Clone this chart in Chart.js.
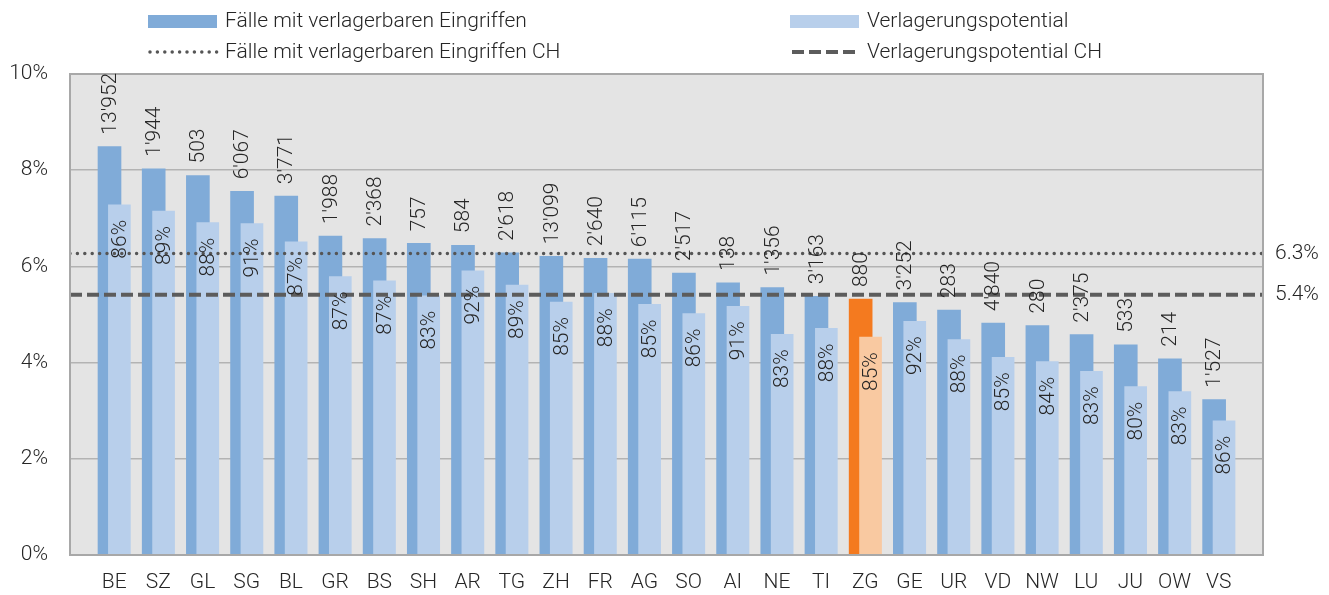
<!DOCTYPE html>
<html>
<head>
<meta charset="utf-8">
<script src="https://cdn.jsdelivr.net/npm/chart.js@4.4.1/dist/chart.umd.min.js"></script>
<style>
  html, body { margin: 0; padding: 0; background: #fff; }
  #wrap { position: relative; width: 1329px; height: 595px; }
</style>
</head>
<body>
<div id="wrap"><canvas id="chart" width="1329" height="595"></canvas></div>
<script>
// Kantone, sortiert nach Anteil Fälle mit verlagerbaren Eingriffen
const cantons = ['BE', 'SZ', 'GL', 'SG', 'BL', 'GR', 'BS', 'SH', 'AR', 'TG', 'ZH', 'FR', 'AG',
                 'SO', 'AI', 'NE', 'TI', 'ZG', 'GE', 'UR', 'VD', 'NW', 'LU', 'JU', 'OW', 'VS'];
// Anteil Fälle mit verlagerbaren Eingriffen (%)
const faelle = [8.49, 8.03, 7.89, 7.56, 7.46, 6.63, 6.58, 6.48, 6.44, 6.28, 6.21, 6.17, 6.15,
                5.86, 5.66, 5.56, 5.38, 5.32, 5.25, 5.09, 4.82, 4.77, 4.58, 4.37, 4.08, 3.23];
// Verlagerungspotential (%)
const potential = [7.28, 7.15, 6.91, 6.89, 6.51, 5.79, 5.70, 5.39, 5.91, 5.61, 5.26, 5.44, 5.21,
                   5.02, 5.17, 4.59, 4.71, 4.53, 4.86, 4.48, 4.11, 4.02, 3.82, 3.50, 3.40, 2.79];
// Fallzahlen (Beschriftung über den dunklen Balken)
const fallzahlen = ["13'952", "1'944", "503", "6'067", "3'771", "1'988", "2'368", "757", "584",
                    "2'618", "13'099", "2'640", "6'115", "2'517", "138", "1'356", "3'163", "880",
                    "3'252", "283", "4'840", "280", "2'375", "533", "214", "1'527"];
// Anteil verlagerbar (Beschriftung in den hellen Balken)
const anteile = ['86%', '89%', '88%', '91%', '87%', '87%', '87%', '83%', '92%', '89%', '85%', '88%', '85%',
                 '86%', '91%', '83%', '88%', '85%', '92%', '88%', '85%', '84%', '83%', '80%', '83%', '86%'];
// Schweizer Durchschnitt
const chFaelle = 6.27;
const chPotential = 5.41;
const chLabels = ['6.3%', '5.4%'];
const highlight = 'ZG';

const FONT = 'Roboto';
const FONT_SIZE = 21;
const TEXT = '#262626';
const hi = cantons.indexOf(highlight);
const darkColors = cantons.map((c, i) => i === hi ? '#f47a1f' : '#80abd8');
const lightColors = cantons.map((c, i) => i === hi ? '#f9c9a1' : '#b8cfeb');

const plotBackground = {
    id: 'plotBackground',
    beforeDraw(chart) {
        const { ctx, chartArea: a } = chart;
        ctx.save();
        ctx.fillStyle = '#e4e4e4';
        ctx.fillRect(a.left, a.top, a.right - a.left, a.bottom - a.top);
        ctx.restore();
    },
    afterDatasetsDraw(chart) {
        const { ctx, chartArea: a } = chart;
        ctx.save();
        ctx.strokeStyle = '#a8a8a8';
        ctx.lineWidth = 2;
        ctx.strokeRect(a.left, a.top, a.right - a.left, a.bottom - a.top);

        ctx.fillStyle = TEXT;
        ctx.font = '300 ' + FONT_SIZE + 'px ' + FONT;
        ctx.textBaseline = 'middle';

        // Fallzahlen über den dunklen Balken
        chart.getDatasetMeta(0).data.forEach((el, i) => {
            ctx.save();
            ctx.translate(el.x, el.y - 12);
            ctx.rotate(-Math.PI / 2);
            ctx.textAlign = 'left';
            ctx.fillText(fallzahlen[i], 0, 1);
            ctx.restore();
        });
        // Prozent in den hellen Balken
        chart.getDatasetMeta(1).data.forEach((el, i) => {
            ctx.save();
            ctx.translate(el.x, el.y + 15);
            ctx.rotate(-Math.PI / 2);
            ctx.textAlign = 'right';
            ctx.fillText(anteile[i], 0, 1);
            ctx.restore();
        });

        // CH-Werte rechts neben dem Plot
        const y = chart.scales.y;
        ctx.textAlign = 'left';
        ctx.fillText(chLabels[0], a.right + 12, y.getPixelForValue(chFaelle));
        ctx.fillText(chLabels[1], a.right + 12, y.getPixelForValue(chPotential));
        ctx.restore();
    }
};

// Legende in zwei Spalten, wie im Original
const twoColLegend = {
    id: 'twoColLegend',
    afterDraw(chart) {
        const ctx = chart.ctx;
        const ds = chart.data.datasets;
        const cols = [148, 790];
        const rows = [21, 52];
        const items = [
            { ds: ds[0], col: 0, row: 0, kind: 'box', color: '#80abd8' },
            { ds: ds[1], col: 1, row: 0, kind: 'box', color: '#b8cfeb' },
            { ds: ds[2], col: 0, row: 1, kind: 'line' },
            { ds: ds[3], col: 1, row: 1, kind: 'line' }
        ];
        ctx.save();
        items.forEach(it => {
            const x = cols[it.col], y = rows[it.row];
            if (it.kind === 'box') {
                ctx.fillStyle = it.color;
                ctx.fillRect(x, y - 6, 69, 13);
            } else {
                ctx.strokeStyle = it.ds.borderColor;
                ctx.lineWidth = it.ds.borderWidth;
                ctx.lineCap = it.ds.borderCapStyle || 'butt';
                ctx.setLineDash(it.ds.borderDash);
                ctx.beginPath();
                ctx.moveTo(x + 2, y);
                ctx.lineTo(x + 69, y);
                ctx.stroke();
                ctx.setLineDash([]);
            }
            ctx.fillStyle = TEXT;
            ctx.font = '300 ' + FONT_SIZE + 'px ' + FONT;
            ctx.textAlign = 'left';
            ctx.textBaseline = 'middle';
            ctx.fillText(it.ds.label, x + 77, y + 1);
        });
        ctx.restore();
    }
};

const lastIdx = cantons.length;
const ctx = document.getElementById('chart').getContext('2d');
new Chart(ctx, {
    type: 'bar',
    data: {
        datasets: [
            {
                label: 'Fälle mit verlagerbaren Eingriffen',
                data: faelle.map((v, i) => ({ x: i, y: v })),
                backgroundColor: darkColors,
                xAxisID: 'xDark',
                grouped: false,
                categoryPercentage: 1,
                barPercentage: 1,
                maxBarThickness: 23,
                order: 2
            },
            {
                label: 'Verlagerungspotential',
                data: potential.map((v, i) => ({ x: i, y: v })),
                backgroundColor: lightColors,
                xAxisID: 'xLight',
                grouped: false,
                categoryPercentage: 1,
                barPercentage: 1,
                maxBarThickness: 22,
                order: 1
            },
            {
                type: 'line',
                label: 'Fälle mit verlagerbaren Eingriffen CH',
                data: [{ x: -1, y: chFaelle }, { x: lastIdx, y: chFaelle }],
                xAxisID: 'x',
                borderColor: '#555555',
                borderWidth: 3.5,
                borderDash: [0, 7.4],
                borderCapStyle: 'round',
                pointRadius: 0,
                fill: false,
                order: 0
            },
            {
                type: 'line',
                label: 'Verlagerungspotential CH',
                data: [{ x: -1, y: chPotential }, { x: lastIdx, y: chPotential }],
                xAxisID: 'x',
                borderColor: '#5c5c5c',
                borderWidth: 4,
                borderDash: [12, 5],
                pointRadius: 0,
                fill: false,
                order: 0
            }
        ]
    },
    options: {
        responsive: false,
        animation: false,
        layout: { padding: { top: 74, right: 66, left: 11, bottom: 0 } },
        plugins: {
            legend: { display: false },
            tooltip: { enabled: false }
        },
        scales: {
            x: {
                type: 'linear',
                offset: false,
                min: -1,
                max: lastIdx,
                grid: { display: false, drawTicks: false },
                border: { display: false },
                ticks: {
                    stepSize: 1,
                    autoSkip: false,
                    maxRotation: 0,
                    padding: 15,
                    color: TEXT,
                    font: { family: FONT, size: FONT_SIZE, weight: 300 },
                    callback: v => cantons[v] ?? ''
                },
                afterFit: s => { s.paddingLeft = 0; s.paddingRight = 0; s.height = 40; }
            },
            // dunkle Balken leicht nach links, helle nach rechts versetzt (überlappend)
            xDark: {
                type: 'linear', display: false, offset: false,
                min: -1 + 0.106, max: lastIdx + 0.106
            },
            xLight: {
                type: 'linear', display: false, offset: false,
                min: -1 - 0.118, max: lastIdx - 0.118
            },
            y: {
                min: 0,
                max: 10,
                grid: { color: '#b3b3b3', lineWidth: 1.5, drawTicks: false },
                border: { display: false },
                ticks: {
                    stepSize: 2,
                    padding: 22,
                    color: TEXT,
                    font: { family: FONT, size: FONT_SIZE, weight: 300 },
                    callback: v => v + '%'
                },
                afterFit: s => { s.width = 59; s.paddingTop = 0; s.paddingBottom = 0; }
            }
        }
    },
    plugins: [plotBackground, twoColLegend]
});
</script>
</body>
</html>
